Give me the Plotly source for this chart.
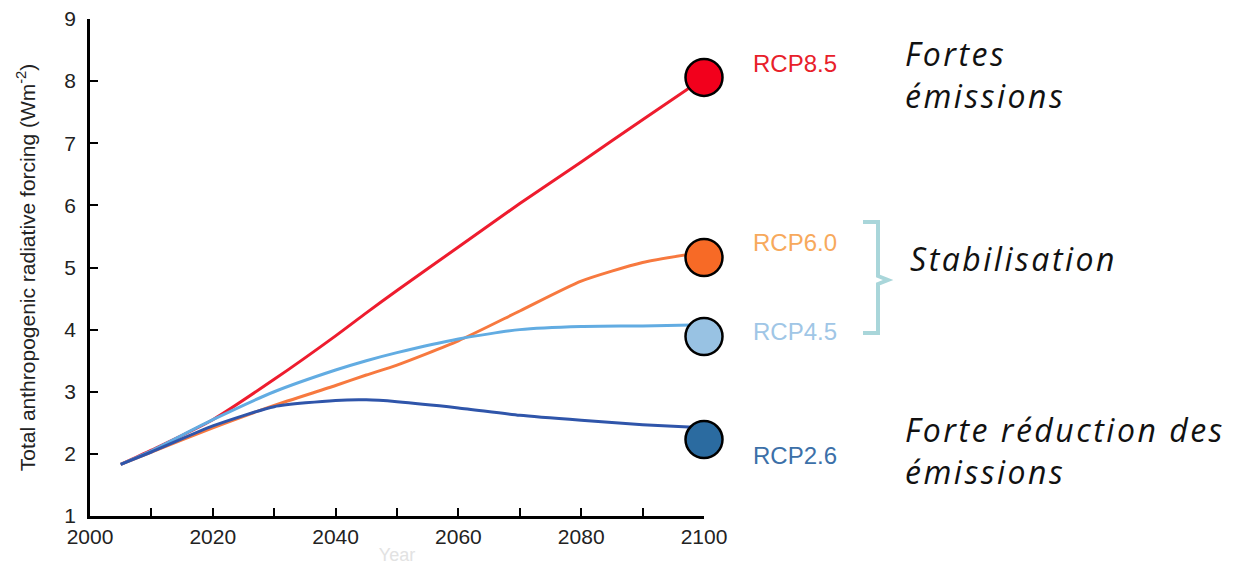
import plotly.graph_objects as go

# ---- data ----
years = [2005, 2010, 2020, 2030, 2040, 2045, 2050, 2060, 2070, 2080, 2090, 2100]
rcp85 = [1.83, 2.06, 2.55, 3.20, 3.90, 4.27, 4.63, 5.33, 6.03, 6.70, 7.38, 8.05]
rcp60 = [1.83, 2.03, 2.42, 2.78, 3.10, 3.27, 3.43, 3.82, 4.30, 4.78, 5.08, 5.25]
rcp45 = [1.83, 2.05, 2.55, 3.00, 3.35, 3.50, 3.63, 3.85, 4.00, 4.05, 4.06, 4.08]
rcp26 = [1.83, 2.03, 2.45, 2.76, 2.86, 2.87, 2.84, 2.74, 2.62, 2.54, 2.47, 2.42]

scenario_names = ["RCP8.5", "RCP6.0", "RCP4.5", "RCP2.6"]
end_year = 2100
end_markers = [8.06, 5.16, 3.89, 2.23]

line_colors = ["#EE1C2E", "#F7793F", "#62ACE2", "#2F55AA"]
marker_colors = ["#F2001C", "#F76A26", "#98C2E3", "#2B6BA0"]
label_colors = ["#E8202A", "#F7A95C", "#A0C6E6", "#3C70A8"]

x_ticks = [2000, 2020, 2040, 2060, 2080, 2100]
y_ticks = [1, 2, 3, 4, 5, 6, 7, 8, 9]

# ---- layout geometry (screen pixels; page body adds an 8px offset) ----
W, H = 1239, 568
OFF = 8
L, R, T, B = 90, 704, 19, 516


def px(x):
    return (x - L) / (R - L)


def py(y):
    return (B - y) / (B - T)


fig = go.Figure()
for vals, col in zip([rcp85, rcp60, rcp45, rcp26], line_colors):
    fig.add_trace(go.Scatter(x=years, y=vals, mode="lines",
                             line=dict(color=col, width=3, shape="spline", smoothing=0.6),
                             showlegend=False, hoverinfo="skip"))

for v, mc in zip(end_markers, marker_colors):
    fig.add_trace(go.Scatter(x=[end_year], y=[v], mode="markers",
                             marker=dict(size=37, color=mc, line=dict(color="black", width=2.5)),
                             cliponaxis=False, showlegend=False, hoverinfo="skip"))

annotations = []
label_y = [63, 243, 331, 455]
for name, col, yy in zip(scenario_names, label_colors, label_y):
    annotations.append(dict(x=px(751), y=py(yy), xref="paper", yref="paper",
                            text=name, showarrow=False, xanchor="left", yanchor="middle",
                            font=dict(family="Liberation Sans, Arial", size=24, color=col)))

ital = dict(family="Open Sans", size=32, color="#111111")


def spaced(t):
    return "<i><span style='letter-spacing:2.5px'>" + t + "</span></i>"


annotations += [
    dict(x=px(903), y=py(75), xref="paper", yref="paper",
         text=spaced("Fortes") + "<br>" + spaced("émissions"),
         showarrow=False, xanchor="left", yanchor="middle", align="left", font=ital),
    dict(x=px(908), y=py(258), xref="paper", yref="paper", text=spaced("Stabilisation"),
         showarrow=False, xanchor="left", yanchor="middle", align="left", font=ital),
    dict(x=px(903), y=py(450), xref="paper", yref="paper",
         text=spaced("Forte réduction des") + "<br>" + spaced("émissions"),
         showarrow=False, xanchor="left", yanchor="middle", align="left", font=ital),
]

# bracket
pts = [(863, 222), (878, 222), (878, 276), (888, 280), (878, 284), (878, 333), (863, 333)]
path = "M " + " L ".join(f"{px(a):.5f},{py(b):.5f}" for a, b in pts)
shapes = [dict(type="path", xref="paper", yref="paper", path=path,
               line=dict(color="#A9D6DA", width=4))]

fig.update_layout(
    width=W, height=H,
    margin=dict(l=L - OFF, r=W - R + OFF, t=T - OFF, b=H - B + OFF, autoexpand=False),
    paper_bgcolor="white", plot_bgcolor="white",
    annotations=annotations, shapes=shapes,
    xaxis=dict(range=[2000, 2100], tickvals=x_ticks, ticks="inside", ticklen=8, tickwidth=2,
               tickcolor="black", showline=True, linecolor="black", linewidth=2.5,
               showgrid=False, zeroline=False, automargin=False, ticklabeloverflow="allow",
               minor=dict(dtick=10, ticks="inside", ticklen=8, tickwidth=2, tickcolor="black"),
               tickfont=dict(family="Liberation Sans, Arial", size=21, color="#222222"),
               title=dict(text="Year", font=dict(family="Liberation Sans, Arial", size=18, color="#E2E2E2"),
                          standoff=2)),
    yaxis=dict(range=[1, 9], tickvals=y_ticks, ticks="inside", ticklen=8, tickwidth=2,
               tickcolor="black", showline=True, linecolor="black", linewidth=2.5,
               showgrid=False, zeroline=False, automargin=False, ticklabeloverflow="allow",
               ticklabelstandoff=7,
               tickfont=dict(family="Liberation Sans, Arial", size=21, color="#222222"),
               title=dict(text="Total anthropogenic radiative forcing (Wm<sup>-2</sup>)",
                          font=dict(family="Liberation Sans, Arial", size=21, color="#222222"),
                          standoff=24)),
)

fig.write_html("out.html")
